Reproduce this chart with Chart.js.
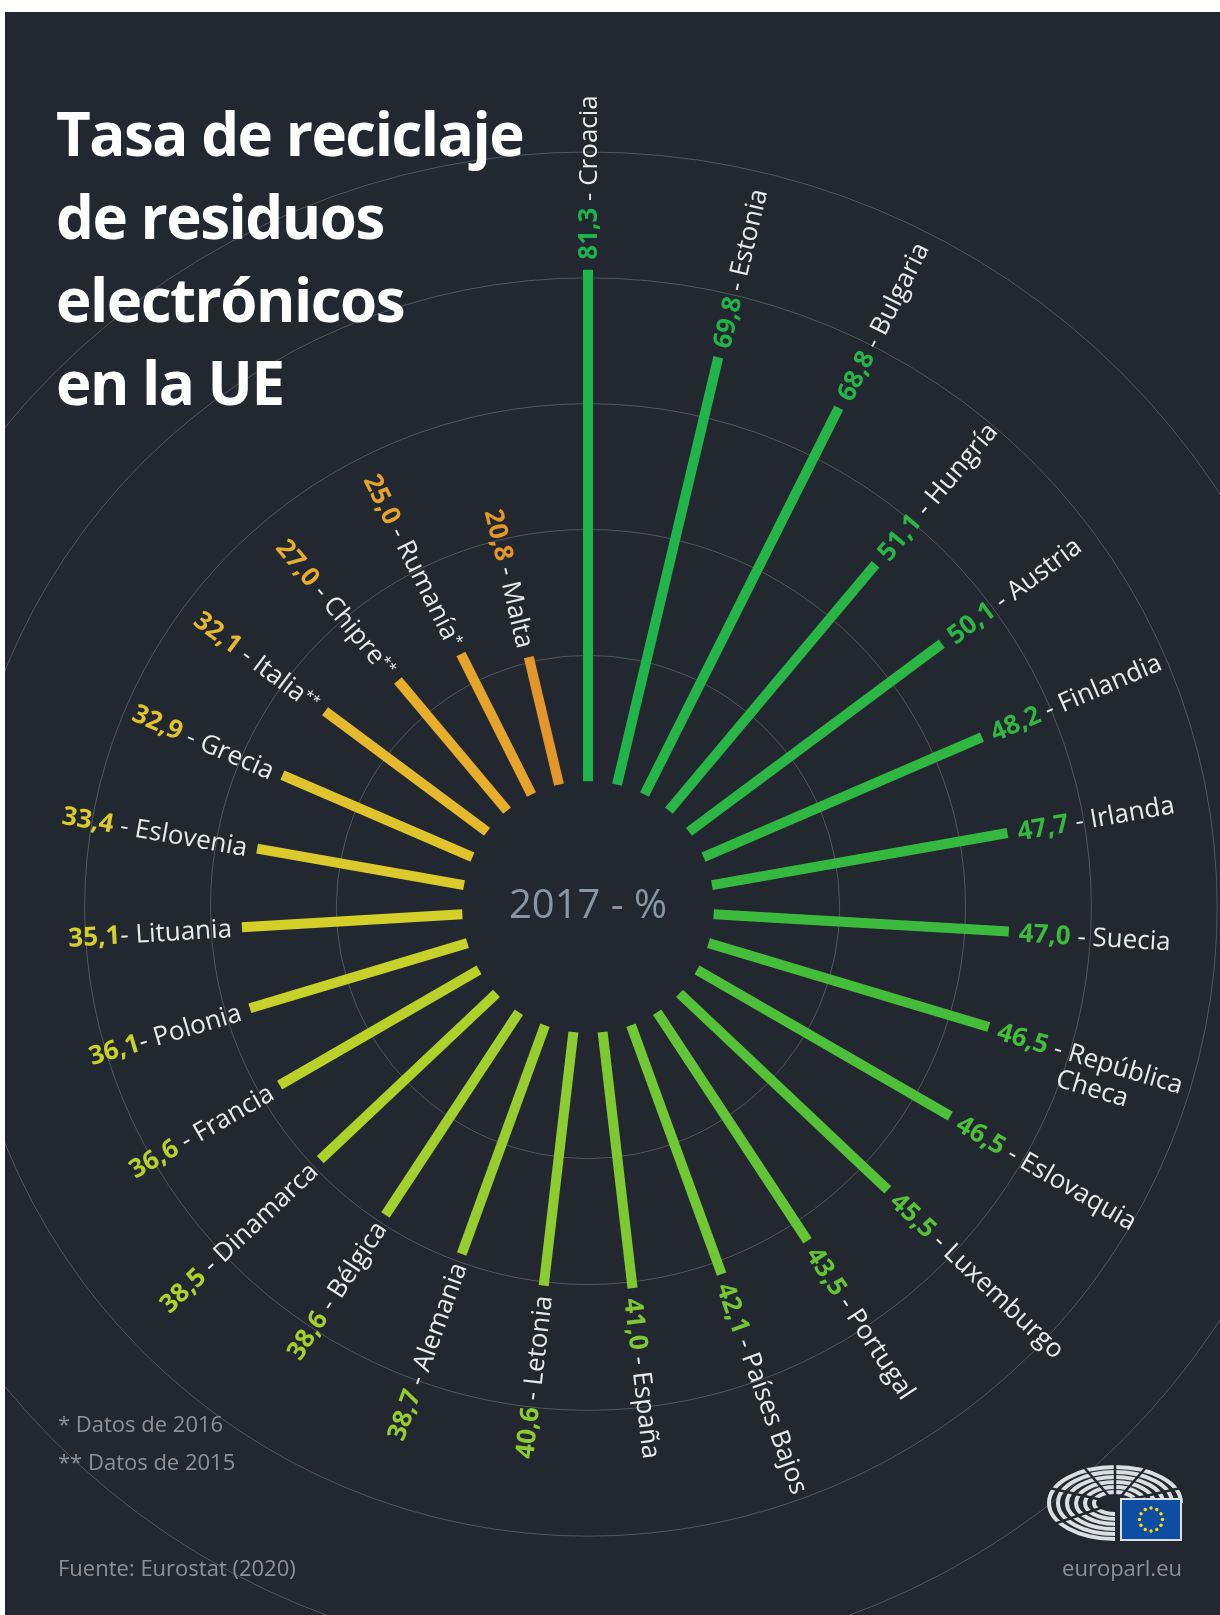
<!DOCTYPE html>
<html>
<head>
<meta charset="utf-8">
<script src="https://cdn.jsdelivr.net/npm/chart.js@4.4.1/dist/chart.umd.min.js"></script>
<style>
  html, body { margin: 0; padding: 0; background: #fff; overflow: hidden; }
  #page { position: absolute; left: 5px; top: 12px; width: 1215px; height: 1603px; background: #23272f; overflow: hidden; font-family: "Open Sans", sans-serif; }
  #chart { position: absolute; left: -327px; top: -15px; }
  .title { position: absolute; left: 51px; top: 80px; color: #fff; font-weight: 700; font-size: 60px; line-height: 83px; letter-spacing: -1.5px; }
  .note { position: absolute; color: #8b929a; font-size: 22px; line-height: 22px; white-space: nowrap; }
  #logo { position: absolute; left: 1040px; top: 1440px; }
</style>
</head>
<body>
<div id="page">
  <canvas id="chart" width="1820" height="1820"></canvas>
  <div class="title">Tasa de reciclaje<br>de residuos<br>electrónicos<br>en la UE</div>
  <div class="note" style="left:53px;top:1400px">* Datos de 2016</div>
  <div class="note" style="left:53px;top:1438px">** Datos de 2015</div>
  <div class="note" style="left:53px;top:1544px">Fuente: Eurostat (2020)</div>
  <div class="note" style="right:38px;top:1544px">europarl.eu</div>
  <svg id="logo" width="150" height="100" viewBox="0 0 150 100">
    <g id="rings" fill="none" stroke="#dcdfe2" stroke-width="4"></g>
    <g stroke="#23272f" stroke-width="2.5">
      <line x1="70" y1="51" x2="70" y2="0" />
      <line x1="70" y1="51" x2="30" y2="5" />
      <line x1="70" y1="51" x2="110" y2="5" />
      <line x1="70" y1="51" x2="0" y2="35" />
      <line x1="70" y1="51" x2="0" y2="75" />
      <line x1="70" y1="51" x2="140" y2="35" />
    </g>
    <rect x="76" y="47" width="60" height="41" fill="#0d4ea3" stroke="#dcdfe2" stroke-width="2" />
    <g id="stars" fill="#ffdd00"></g>
  </svg>
</div>
<script>
// EU e-waste recycling rate, 2017 (%), clockwise from the top
var countries = ["Croacia", "Estonia", "Bulgaria", "Hungría", "Austria", "Finlandia", "Irlanda", "Suecia",
  ["República", "Checa"], "Eslovaquia", "Luxemburgo", "Portugal", "Países Bajos", "España", "Letonia",
  "Alemania", "Bélgica", "Dinamarca", "Francia", "Polonia", "Lituania", "Eslovenia", "Grecia",
  "Italia**", "Chipre**", "Rumanía*", "Malta"];
var rates = [81.3, 69.8, 68.8, 51.1, 50.1, 48.2, 47.7, 47.0, 46.5, 46.5, 45.5, 43.5, 42.1, 41.0, 40.6,
  38.7, 38.6, 38.5, 36.6, 36.1, 35.1, 33.4, 32.9, 32.1, 27.0, 25.0, 20.8];
var gridTicks = [20, 40, 60, 80, 100];
var centerLabel = "2017 - %";
// the source writes these two without a space before the dash
var tightDash = ["Polonia", "Lituania"];

// colour ramp along the ring (index -> colour)
var colorStops = [[0, "#1db34d"], [6, "#34b840"], [10, "#55c136"], [14, "#8ccc31"], [17, "#add22a"],
  [20, "#d5cf2a"], [22, "#e0c42b"], [24, "#e7ae2b"], [26, "#e3972a"]];

function hexToRGB(h) {
  return [parseInt(h.slice(1, 3), 16), parseInt(h.slice(3, 5), 16), parseInt(h.slice(5, 7), 16)];
}
function rampColor(i) {
  for (var k = 0; k < colorStops.length - 1; k++) {
    var a = colorStops[k], b = colorStops[k + 1];
    if (i >= a[0] && i <= b[0]) {
      var t = (i - a[0]) / (b[0] - a[0]), ca = hexToRGB(a[1]), cb = hexToRGB(b[1]);
      return "rgb(" + ca.map(function (c, j) { return Math.round(c + (cb[j] - c) * t); }).join(",") + ")";
    }
  }
  return colorStops[colorStops.length - 1][1];
}

// europarl logo: hemicycle rings + EU flag stars
(function () {
  var s = "";
  for (var k = 0; k < 12; k++) {
    var a = k * Math.PI / 6;
    s += '<circle cx="' + (106 + 11.5 * Math.cos(a)).toFixed(1) + '" cy="' + (67.5 + 11.5 * Math.sin(a)).toFixed(1) + '" r="1.7"/>';
  }
  document.getElementById("stars").innerHTML = s;
  var r = "";
  for (var j = 0; j < 6; j++) {
    var rx = 66 - j * 9, ry = 36 - j * 5;
    r += '<path d="M' + (70 + rx) + ' 51 A' + rx + ' ' + ry + ' 0 1 0 70 ' + (51 + ry) + '"/>';
  }
  document.getElementById("rings").innerHTML = r;
})();

var radialBars = {
  id: "radialBars",
  afterDatasetsDraw: function (chart) {
    var ctx = chart.ctx, sc = chart.scales.r, vals = chart.data.datasets[0].data;
    var labels = chart.data.labels;
    ctx.save();
    // centre label
    ctx.fillStyle = "#8797a6";
    ctx.font = '40px "Open Sans"';
    ctx.textAlign = "center";
    ctx.textBaseline = "middle";
    ctx.fillText(centerLabel, sc.xCenter, sc.yCenter);

    vals.forEach(function (v, i) {
      var col = rampColor(i);
      var p0 = sc.getPointPositionForValue(i, 0), p1 = sc.getPointPositionForValue(i, v);
      ctx.strokeStyle = col;
      ctx.lineWidth = 10;
      ctx.lineCap = "butt";
      ctx.beginPath();
      ctx.moveTo(p0.x, p0.y);
      ctx.lineTo(p1.x, p1.y);
      ctx.stroke();

      // label along the bar
      var th = sc.getIndexAngle(i), gap = 10;
      var x = p1.x + Math.sin(th) * gap, y = p1.y - Math.cos(th) * gap;
      var right = th < Math.PI;
      var lines = Array.isArray(labels[i]) ? labels[i] : [labels[i]];
      var m = lines[0].match(/^(.*?)(\**)$/);
      var dash = tightDash.indexOf(m[1]) >= 0 ? "- " : " - ";
      var valTxt = v.toFixed(1).replace(".", ","), nameTxt = dash + m[1], stars = m[2];
      ctx.save();
      ctx.translate(x, y);
      ctx.rotate(right ? th - Math.PI / 2 : th - 3 * Math.PI / 2);
      ctx.textAlign = "left";
      ctx.textBaseline = "middle";
      ctx.font = 'bold 26px "Open Sans"';
      var wv = ctx.measureText(valTxt).width;
      ctx.font = '26px "Open Sans"';
      var wn = ctx.measureText(nameTxt).width;
      ctx.font = '15px "Open Sans"';
      var ws = stars ? ctx.measureText(stars).width : 0;
      var sx = right ? 0 : -(wv + wn + ws);
      ctx.font = 'bold 26px "Open Sans"';
      ctx.fillStyle = col;
      ctx.fillText(valTxt, sx, 2);
      ctx.font = '26px "Open Sans"';
      ctx.fillStyle = "#e8eaec";
      ctx.fillText(nameTxt, sx + wv, 2);
      if (stars) {
        ctx.font = '15px "Open Sans"';
        ctx.fillText(stars, sx + wv + wn, -2);
      }
      ctx.font = '26px "Open Sans"';
      var indent = sx + wv + ctx.measureText(" - ").width - 4;
      for (var k = 1; k < lines.length; k++) ctx.fillText(lines[k], indent, 2 + 28 * k);
      ctx.restore();
    });
    ctx.restore();
  }
};

Chart.defaults.font.family = '"Open Sans", sans-serif';
new Chart(document.getElementById("chart"), {
  type: "radar",
  data: {
    labels: countries,
    datasets: [{ data: rates, showLine: false, pointRadius: 0, borderWidth: 0, fill: false }]
  },
  options: {
    responsive: false,
    animation: false,
    devicePixelRatio: 1,
    layout: { padding: 155 },
    plugins: { legend: { display: false }, tooltip: { enabled: false } },
    scales: {
      r: {
        min: -20,
        max: 100,
        ticks: { display: false, stepSize: 20 },
        pointLabels: { display: false },
        angleLines: { display: false },
        grid: {
          circular: true,
          lineWidth: 1,
          color: function (c) {
            return c.tick && gridTicks.indexOf(c.tick.value) >= 0 ? "rgba(200,210,225,0.28)" : "rgba(0,0,0,0)";
          }
        }
      }
    }
  },
  plugins: [radialBars]
});
</script>
</body>
</html>
